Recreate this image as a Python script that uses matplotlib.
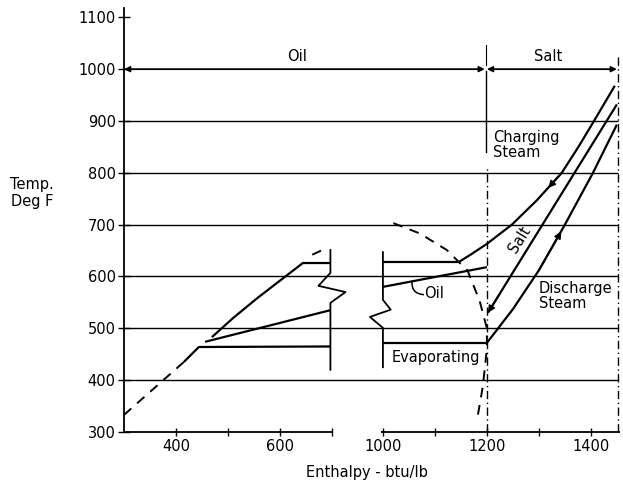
import numpy as np
import matplotlib.pyplot as plt

plt.rcParams['font.family'] = 'DejaVu Sans'
plt.rcParams['font.size'] = 10.5

# enthalpy (btu/lb) / temperature (deg F) paths
sat_liq_h = [300, 415]
sat_liq_t = [333, 435]
sat_liq_top_h = [662, 690]
sat_liq_top_t = [642, 655]
sat_vap_h = [1020, 1071, 1123, 1163, 1186, 1200, 1200, 1192, 1181]
sat_vap_t = [703, 683, 651, 611, 553, 500, 460, 387, 323]

water_h = [415, 444, 697]
water_t = [435, 464, 465]
evap_h = [1000, 1200]
evap_t = [472, 472]
discharge_h = [1200, 1250, 1300, 1350, 1404, 1450]
discharge_t = [472, 537, 612, 700, 800, 893]

salt_h = [1202, 1450]
salt_t = [530, 932]

oil_left_h = [456, 697]
oil_left_t = [474, 535]
oil_right_h = [1000, 1200]
oil_right_t = [580, 618]

charge_left_h = [469, 510, 556, 600, 644, 697]
charge_left_t = [483, 520, 558, 592, 626, 626]
charge_right_h = [1000, 1146, 1170, 1200, 1248, 1296, 1344, 1376, 1406, 1446]
charge_right_t = [628, 628, 643, 663, 700, 747, 800, 850, 900, 968]

grid_t = [400, 500, 600, 700, 800, 900]
x_ticks = [400, 500, 600, 700, 1000, 1100, 1200, 1300, 1400]
x_labels = ['400', '', '600', '', '1000', '', '1200', '', '1400']
y_ticks = [300, 400, 500, 600, 700, 800, 900, 1000, 1100]

# broken enthalpy axis: 700..1000 squeezed into a short gap
GAP_LO, GAP_HI, GAP_W = 700, 1000, 98
SHIFT = GAP_HI - GAP_LO - GAP_W
BIG = 1e5


def fwd(h):
    return np.interp(h, [-BIG, GAP_LO, GAP_HI, BIG], [-BIG, GAP_LO, GAP_LO + GAP_W, BIG - SHIFT])


def inv(u):
    return np.interp(u, [-BIG, GAP_LO, GAP_LO + GAP_W, BIG - SHIFT], [-BIG, GAP_LO, GAP_HI, BIG])


fig = plt.figure(figsize=(6.23, 4.82), dpi=100)
ax = fig.add_axes([124 / 623, 50 / 482, 496 / 623, 424 / 482])
ax.set_xscale('function', functions=(fwd, inv))
ax.set_xlim(300, 1456)
ax.set_ylim(300, 1118)

LW = 1.6
GLW = 1.0
k = dict(color='black', solid_capstyle='butt', solid_joinstyle='round')

# horizontal rules
for t in grid_t:
    ax.plot([300, 1452], [t, t], lw=GLW, **k)

# broken bottom axis
ax.plot([300, 700], [300, 300], lw=1.3, clip_on=False, **k)
ax.plot([987, 1456], [300, 300], lw=1.3, clip_on=False, **k)

# saturation dome
dash = (0, (5, 4))
ax.plot(sat_liq_h, sat_liq_t, lw=1.4, ls=dash, color='black')
ax.plot(sat_liq_top_h, sat_liq_top_t, lw=1.4, ls=dash, color='black')
ax.plot(sat_vap_h, sat_vap_t, lw=1.4, ls=dash, color='black')

# process lines
ax.plot(water_h, water_t, lw=LW, **k)
ax.plot(evap_h, evap_t, lw=LW, **k)
ax.plot(discharge_h, discharge_t, lw=LW, **k)
ax.plot(salt_h, salt_t, lw=LW, **k)
ax.plot(oil_left_h, oil_left_t, lw=LW, **k)
ax.plot(oil_right_h, oil_right_t, lw=LW, **k)
ax.plot(charge_left_h, charge_left_t, lw=LW, **k)
ax.plot(charge_right_h, charge_right_t, lw=LW, **k)

# flow direction arrows
arr = dict(arrowstyle='-|>', color='black', lw=1.2, mutation_scale=10, shrinkA=0, shrinkB=0)
ax.annotate('', xy=(1318, 771), xytext=(charge_right_h[6], charge_right_t[6]), arrowprops=arr)
ax.annotate('', xy=(1343, 687), xytext=(discharge_h[2], discharge_t[2]), arrowprops=arr)
ax.annotate('', xy=(salt_h[0], salt_t[0]), xytext=(1225, 567), arrowprops=arr)


# axis break marks (offsets in squeezed-axis units)
def break_mark(h0, t_top, t_zig, zig_dx, zig_t, t_bot):
    u0 = fwd(h0)
    us = [u0, u0] + [u0 + d for d in zig_dx] + [u0, u0]
    ts = [t_top, t_zig] + list(zig_t) + [zig_t[-1] - 21, t_bot]
    ax.plot(inv(np.array(us)), ts, lw=1.3, color='black')


break_mark(697, 651, 607, [-23, 29], [582, 570], 420)
break_mark(1000, 647, 555, [15, -25], [536, 522], 425)

# vertical reference lines
ax.plot([1200, 1200], [300, 811], lw=1.0, ls=(0, (6, 2.5, 1, 2.5)), color='black')
ax.plot([1198, 1198], [840, 997], lw=1.0, color='black')
ax.plot([1198, 1198], [1008, 1047], lw=0.8, color='black')
ax.plot([1452, 1452], [300, 1024], lw=1.0, ls=(0, (6, 2.5, 1, 2.5)), color='black', clip_on=False)

# span arrows along 1000 F
span = dict(arrowstyle='<|-|>', color='black', lw=1.3, mutation_scale=8, shrinkA=0, shrinkB=0)
ax.annotate('', xy=(300, 1000), xytext=(1196, 1000), arrowprops=span)
ax.annotate('', xy=(1200, 1000), xytext=(1450, 1000), arrowprops=span)
ax.text(633, 1024, 'Oil', ha='center', va='center')
ax.text(1317, 1024, 'Salt', ha='center', va='center')

# labels on curves
ax.text(1212, 854, 'Charging\nSteam', ha='left', va='center', linespacing=1.0)
ax.text(1300, 562, 'Discharge\nSteam', ha='left', va='center', linespacing=1.0)
ax.text(1263, 671, 'Salt', ha='center', va='center', rotation=58)
ax.text(1102, 443, 'Evaporating', ha='center', va='center')
ax.text(1098, 567, 'Oil', ha='center', va='center')
ax.annotate('', xy=(1056, 591), xytext=(1078, 565),
            arrowprops=dict(arrowstyle='-', color='black', lw=1.1,
                            connectionstyle='arc3,rad=-0.5', shrinkA=0, shrinkB=0))

# axes styling
for s in ['top', 'right', 'bottom']:
    ax.spines[s].set_visible(False)
ax.spines['left'].set_linewidth(1.3)
ax.set_xticks(x_ticks)
ax.set_xticklabels(x_labels)
ax.xaxis.set_minor_locator(plt.NullLocator())
ax.set_yticks(y_ticks)
ax.tick_params(axis='x', direction='inout', length=6, width=1.0, pad=2)
ax.tick_params(axis='y', direction='inout', length=8, width=1.0, pad=2)

fig.text(32 / 623, 1 - 193 / 482, 'Temp.\nDeg F', ha='center', va='center',
         multialignment='center', linespacing=1.1)
fig.text(367 / 623, 1 - 472 / 482, 'Enthalpy - btu/lb', ha='center', va='center')

fig.savefig('out.png', dpi=100)
